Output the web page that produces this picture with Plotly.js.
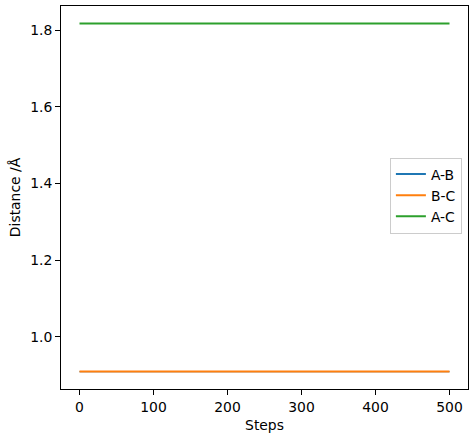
<!DOCTYPE html>
<html>
<head>
<meta charset="utf-8">
<script src="https://cdn.plot.ly/plotly-3.0.1.min.js"></script>
<style>html,body{margin:0;padding:0;background:#fff;}#chart{width:475px;height:437px;}</style>
</head>
<body>
<div id="chart"></div>
<script>
const steps = [0, 100, 200, 300, 400, 500];
const distAB = [0.909, 0.909, 0.909, 0.909, 0.909, 0.909];
const distBC = [0.909, 0.909, 0.909, 0.909, 0.909, 0.909];
const distAC = [1.818, 1.818, 1.818, 1.818, 1.818, 1.818];
const seriesNames = ['A-B', 'B-C', 'A-C'];
const seriesColors = ['#1f77b4', '#ff7f0e', '#2ca02c'];
const seriesValues = [distAB, distBC, distAC];
const seriesWidths = [1.2, 2, 2];

const traces = seriesValues.map((v, i) => ({
  x: steps, y: v, type: 'scatter', mode: 'lines', name: seriesNames[i],
  line: {color: seriesColors[i], width: seriesWidths[i]}
}));

const font = {family: 'DejaVu Sans, sans-serif', size: 13.9, color: '#000'};
const axisCommon = {
  showgrid: false, zeroline: false, showline: true, linecolor: '#000', linewidth: 1,
  mirror: true, ticks: 'outside', ticklen: 5, tickwidth: 1, tickcolor: '#000',
  tickfont: {family: 'DejaVu Sans, sans-serif', size: 13.9, color: '#000'}
};

const layout = {
  width: 475, height: 437,
  margin: {l: 61, r: 7, t: 6, b: 48},
  paper_bgcolor: '#fff', plot_bgcolor: '#fff',
  font: font,
  showlegend: true,
  xaxis: Object.assign({}, axisCommon, {
    range: [-25, 525], tickvals: [0, 100, 200, 300, 400, 500],
    title: {text: 'Steps', font: font, standoff: 6}
  }),
  yaxis: Object.assign({}, axisCommon, {
    range: [0.8636, 1.8636], tickvals: [1.0, 1.2, 1.4, 1.6, 1.8], tickformat: '.1f',
    title: {text: 'Distance /Å', font: font, standoff: 6}
  }),
  legend: {
    x: 0.985, y: 0.505, xanchor: 'right', yanchor: 'middle',
    bgcolor: '#fff', bordercolor: '#cccccc', borderwidth: 1,
    font: font, tracegroupgap: 0, itemwidth: 30
  }
};

Plotly.newPlot('chart', traces, layout, {displayModeBar: false, staticPlot: true}).then(() => {
  // make legend symbol lines uniform width like the reference
  document.querySelectorAll('.legend .traces path.js-line').forEach(p => { p.style.strokeWidth = '2px'; });
});
</script>
</body>
</html>
